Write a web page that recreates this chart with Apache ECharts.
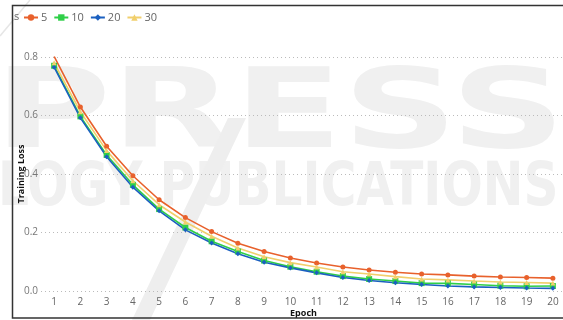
<!DOCTYPE html>
<html>
<head>
<meta charset="utf-8">
<script src="https://cdn.jsdelivr.net/npm/echarts@6/dist/echarts.min.js"></script>
<style>
  html, body { margin: 0; padding: 0; background: #fff; }
  #chart { width: 563px; height: 320px; }
</style>
</head>
<body>
<div id="chart"></div>
<script>
// Epochs on the x axis
const epochs = ['1','2','3','4','5','6','7','8','9','10','11','12','13','14','15','16','17','18','19','20'];

// Training loss per epoch for each setting
const loss5  = [0.802, 0.629, 0.495, 0.394, 0.312, 0.251, 0.203, 0.163, 0.135, 0.113, 0.096, 0.082, 0.072, 0.064, 0.058, 0.055, 0.051, 0.048, 0.046, 0.044];
const loss10 = [0.770, 0.597, 0.465, 0.363, 0.280, 0.217, 0.170, 0.135, 0.104, 0.083, 0.066, 0.051, 0.041, 0.034, 0.027, 0.026, 0.022, 0.018, 0.016, 0.017];
const loss20 = [0.765, 0.592, 0.459, 0.355, 0.274, 0.209, 0.164, 0.127, 0.098, 0.079, 0.062, 0.046, 0.036, 0.028, 0.022, 0.017, 0.014, 0.012, 0.010, 0.009];
const loss30 = [0.780, 0.613, 0.480, 0.377, 0.295, 0.236, 0.187, 0.147, 0.117, 0.097, 0.082, 0.066, 0.058, 0.049, 0.041, 0.038, 0.034, 0.031, 0.029, 0.027];

const seriesNames = ['5', '10', '20', '30'];
const yTicks = [0, 0.2, 0.4, 0.6, 0.8];

const colors = ['#e8612c', '#2fcf48', '#1b60c0', '#f1cf6c'];
const symbols = ['circle', 'rect', 'diamond', 'triangle'];
const dataSets = [loss5, loss10, loss20, loss30];

const chart = echarts.init(document.getElementById('chart'), null, { renderer: 'canvas' });

const fontFamily = '"Open Sans", "Noto Sans", sans-serif';

const option = {
  animation: false,
  color: colors,
  textStyle: { fontFamily: fontFamily },
  graphic: [
    // faint publisher watermark behind the plot
    {
      type: 'text', z: -10, silent: true,
      x: -6, y: 63, scaleX: 1.45,
      style: { text: 'PRESS', font: 'bold 110px "DejaVu Sans"', fill: '#f0f0f0' }
    },
    {
      type: 'text', z: -10, silent: true,
      x: -2, y: 159, scaleX: 0.81,
      style: { text: 'LOGY PUBLICATIONS', font: 'bold 60px "DejaVu Sans"', fill: '#f0f0f0' }
    },
    {
      type: 'polygon', z: -10, silent: true,
      shape: { points: [[228, 118], [246, 118], [150, 320], [132, 320]] },
      style: { fill: '#eeeeee' }
    },
    {
      type: 'line', z: -10, silent: true,
      shape: { x1: 0, y1: 36, x2: 30, y2: 0 },
      style: { stroke: '#e6e6e6', lineWidth: 1.5 }
    },
    // frame around the figure
    {
      type: 'rect', z: 100, silent: true,
      shape: { x: 12.5, y: 5.5, width: 560, height: 312.5 },
      style: { fill: 'none', stroke: '#333', lineWidth: 1.5 }
    },
    {
      type: 'text', z: 100, silent: true,
      x: 14, y: 11,
      style: { text: 's', font: '11px "Open Sans"', fill: '#666' }
    }
  ],
  legend: {
    data: seriesNames,
    left: 23,
    top: 12,
    padding: 0,
    itemWidth: 14,
    itemHeight: 8,
    itemGap: 6,
    textStyle: { fontSize: 11, color: '#666', fontFamily: fontFamily, padding: [0, 0, 0, -2] }
  },
  grid: {
    left: 41,
    right: -3,
    top: 57,
    bottom: 29,
    containLabel: false,
    outerBoundsMode: 'none'
  },
  xAxis: {
    type: 'category',
    data: epochs,
    boundaryGap: true,
    name: 'Epoch',
    nameLocation: 'middle',
    nameGap: 18,
    nameMoveOverlap: false,
    nameTextStyle: { fontSize: 9, fontWeight: 'bold', color: '#111', fontFamily: fontFamily },
    axisLine: { show: false },
    axisTick: { show: false },
    axisLabel: { fontSize: 10, color: '#666', margin: 6, interval: 0 },
    splitLine: { show: false }
  },
  yAxis: {
    type: 'value',
    min: yTicks[0],
    max: yTicks[yTicks.length - 1],
    interval: 0.2,
    name: 'Training Loss',
    nameLocation: 'middle',
    nameGap: 15,
    nameMoveOverlap: false,
    nameTextStyle: { fontSize: 9, fontWeight: 'bold', color: '#111', fontFamily: fontFamily },
    axisLine: { show: false },
    axisTick: { show: false },
    axisLabel: { fontSize: 10, color: '#777', margin: 3, formatter: v => v.toFixed(1) },
    splitLine: { show: true, lineStyle: { type: [1, 3], color: '#bbb', width: 1 } }
  },
  series: seriesNames.map((name, i) => ({
    name: name,
    type: 'line',
    data: dataSets[i],
    symbol: symbols[i],
    symbolSize: i === 1 ? 6 : 5,
    showAllSymbol: true,
    lineStyle: { width: 1.6, color: colors[i] },
    itemStyle: { color: colors[i] }
  }))
};

chart.setOption(option);
</script>
</body>
</html>
